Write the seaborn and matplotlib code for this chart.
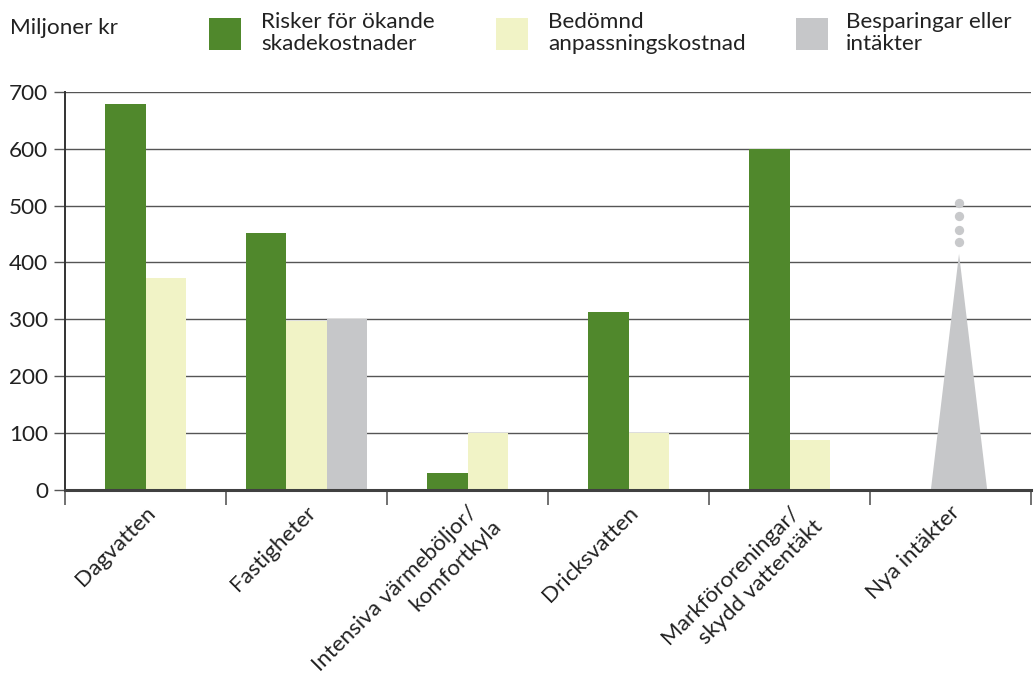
import matplotlib
matplotlib.use("Agg")
import matplotlib.pyplot as plt
from matplotlib.patches import Rectangle
from matplotlib.transforms import offset_copy
import seaborn as sns
import numpy as np

# ---- data ----
categories = ["Dagvatten", "Fastigheter", "Intensiva värmeböljor/\nkomfortkyla",
              "Dricksvatten", "Markföroreningar/\nskydd vattentäkt", "Nya intäkter"]
series_names = ["Risker för ökande\nskadekostnader", "Bedömnd\nanpassningskostnad",
                "Besparingar eller\nintäkter"]
risker = [678, 452, 30, 313, 600, None]
anpassning = [373, 297, 100, 100, 88, None]
besparingar = [None, 300, None, None, None, None]
nya_intakter_peak = 415            # grey spike for "Nya intäkter"
nya_intakter_dots = [435, 457, 481, 504]
yticks = [0, 100, 200, 300, 400, 500, 600, 700]
colors = ["#50882c", "#f1f3c6", "#c6c7c9"]

sns.set_theme(style="white")
plt.rcParams["font.family"] = ["Lato", "DejaVu Sans"]
FS = 16.2

W, H = 1034, 687
fig = plt.figure(figsize=(W / 100, H / 100), dpi=100)
ax = fig.add_axes([65 / W, 1 - 490 / H, 966 / W, (490 - 91.7) / H])

series = [risker, anpassning, besparingar]
bw = 0.25
for ci in range(len(categories)):
    present = [si for si in range(3) if series[si][ci] is not None]
    n = len(present)
    for k, si in enumerate(present):
        ax.bar(ci + (k - (n - 1) / 2) * bw, series[si][ci], width=bw,
               color=colors[si], linewidth=0, zorder=3)

# spike for Nya intäkter
ci = 5
off = 0.053
ax.fill([ci + off - 0.175, ci + off, ci + off + 0.175], [0, nya_intakter_peak, 0],
        color=colors[2], linewidth=0, zorder=3)
ax.scatter([ci + off] * len(nya_intakter_dots), nya_intakter_dots, s=45,
           color="#c8c9cb", linewidth=0, zorder=3)

ax.set_xlim(-0.5, len(categories) - 0.5)
ax.set_ylim(0, 700)
ax.set_yticks(yticks)
ax.set_yticklabels([str(v) for v in yticks], fontsize=FS, color="#222222")
ax.yaxis.grid(True, color="#555555", linewidth=1.0, zorder=0)
ax.set_axisbelow(True)
ax.tick_params(axis="y", which="major", length=8, width=1.0, color="#555555",
               left=True, pad=4)

# major ticks at category boundaries
ax.set_xticks(np.arange(-0.5, len(categories) - 0.4, 1.0))
ax.set_xticklabels([])
ax.tick_params(axis="x", which="major", length=11, width=1.3, color="#666666",
               bottom=True, direction="out")

# rotated category labels, one text per line
xtr = ax.get_xaxis_transform()
spacing = 1.2 * FS
c45 = 0.7071
for i, lab in enumerate(categories):
    for j, line in enumerate(lab.split("\n")):
        perp = j * spacing
        along = 5.0 if j > 0 else 0.0
        dx = 4.5 + perp * c45 + along * c45
        dy = -14 - perp * c45 + along * c45
        tr = offset_copy(xtr, fig=fig, x=dx, y=dy, units="points")
        ax.text(i, 0, line, transform=tr, rotation=45, ha="right", va="center",
                rotation_mode="anchor", fontsize=FS, color="#222222")

for s in ["top", "right"]:
    ax.spines[s].set_visible(False)
ax.spines["left"].set_color("#333333")
ax.spines["left"].set_linewidth(1.4)
ax.spines["bottom"].set_color("#404040")
ax.spines["bottom"].set_linewidth(2.2)
ax.spines["bottom"].set_zorder(4)

# header text and legend
fig.text(10 / W, 1 - 28 / H, "Miljoner kr", fontsize=FS, color="#222222",
         va="center", ha="left")
patch_x = [209, 496, 796]
text_x = [261, 548, 846]
for i in range(3):
    fig.add_artist(Rectangle((patch_x[i] / W, 1 - 50 / H), 32 / W, 32 / H,
                             transform=fig.transFigure, color=colors[i], linewidth=0))
    fig.text(text_x[i] / W, 1 - 33 / H, series_names[i], fontsize=FS,
             color="#222222", va="center", ha="left", linespacing=1.1)

fig.savefig("out.png", dpi=100)
